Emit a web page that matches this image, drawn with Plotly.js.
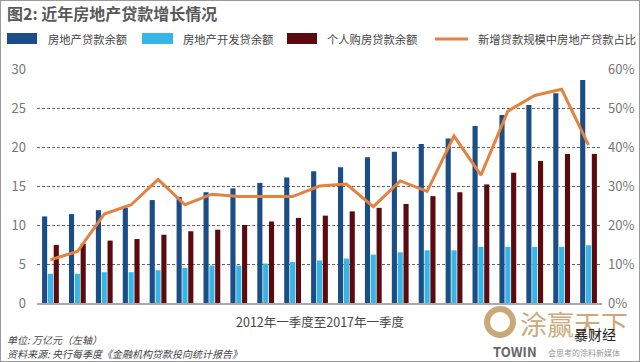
<!DOCTYPE html>
<html>
<head>
<meta charset="utf-8">
<script src="https://cdn.plot.ly/plotly-3.0.1.min.js"></script>
<style>
html,body{margin:0;padding:0;background:#fff;}
#wrap{position:relative;width:640px;height:362px;background:#fff;}
#grid{position:absolute;left:0;top:0;width:640px;height:362px;z-index:0;}
#chart{position:absolute;left:0;top:0;width:640px;height:362px;z-index:1;}
#frame{position:absolute;left:0;top:0;width:640px;height:362px;box-sizing:border-box;border:1px solid #9a9a9a;pointer-events:none;z-index:2;}
</style>
</head>
<body>
<div id="wrap"><div id="grid"></div><div id="chart"></div><div id="frame"></div></div>
<script>
// Quarters 2012Q1 .. 2017Q1
const quarters = ["2012Q1","2012Q2","2012Q3","2012Q4","2013Q1","2013Q2","2013Q3","2013Q4",
  "2014Q1","2014Q2","2014Q3","2014Q4","2015Q1","2015Q2","2015Q3","2015Q4",
  "2016Q1","2016Q2","2016Q3","2016Q4","2017Q1"];
// 房地产贷款余额 (万亿元)
const realEstateLoans = [11.1,11.4,11.9,12.2,13.2,13.6,14.2,14.7,15.4,16.1,16.9,
  17.4,18.7,19.4,20.4,21.1,22.7,24.1,25.4,26.9,28.6];
// 房地产开发贷余额 (万亿元)
const devLoans = [3.75,3.75,3.95,3.95,4.2,4.5,4.8,4.8,5.05,5.25,5.45,
  5.7,6.2,6.5,6.75,6.75,7.2,7.2,7.2,7.2,7.4];
// 个人购房贷款余额 (万亿元)
const mortgageLoans = [7.45,7.6,8.0,8.2,8.75,9.2,9.4,10.0,10.45,10.9,11.2,
  11.75,12.2,12.7,13.7,14.2,15.2,16.7,18.2,19.1,19.1];
// 新增贷款规模中房地产贷款占比
const shareNew = [0.111,0.132,0.228,0.252,0.317,0.252,0.279,0.273,0.273,0.273,0.300,
  0.305,0.247,0.313,0.286,0.428,0.328,0.492,0.532,0.548,0.405];
// left-axis tick values (万亿元)
const leftTicks = [0,5,10,15,20,25,30];

const names = ["房地产贷款余额","房地产开发贷余额","个人购房贷款余额","新增贷款规模中房地产贷款占比"];
const colors = ["#1B4E86","#35B6E6","#5B0B10","#E4823F"];
const FONT = "'Noto Sans CJK SC', 'Noto Sans', sans-serif";
const GRID = "#666666";
const TAN = "rgba(196,160,106,0.9)";

// plot area: x 37..602 px, y 69..303 px
const L=37, R=602, T=69, B=303;
const px = v => (v-L)/(R-L);
const py = v => (B-v)/(B-T);
const MARGIN = {l:L, r:640-R, t:T, b:362-B, pad:0, autoexpand:false};

// ---- background layer: dashed grid lines only (sits behind the bars) ----
Plotly.newPlot("grid", [], {
  width:640, height:362, margin:MARGIN,
  paper_bgcolor:"#fff", plot_bgcolor:"#fff", showlegend:false,
  xaxis:{visible:false, range:[-0.5,20.5], showgrid:false, zeroline:false},
  yaxis:{range:[0,30.05], tickvals:leftTicks, showticklabels:false, ticks:"", showgrid:true,
    gridcolor:GRID, griddash:"3px,2px", gridwidth:1, zeroline:false, showline:false}
}, {displayModeBar:false, staticPlot:true});

// ---- main chart ----
const traces = [
  {type:"bar", x:quarters, y:realEstateLoans, name:names[0], marker:{color:colors[0]}, showlegend:false},
  {type:"bar", x:quarters, y:devLoans, name:names[1], marker:{color:colors[1]}, showlegend:false},
  {type:"bar", x:quarters, y:mortgageLoans, name:names[2], marker:{color:colors[2]}, showlegend:false},
  {type:"scatter", mode:"lines", x:quarters, y:shareNew, name:names[3], yaxis:"y2",
   line:{color:colors[3], width:3}, showlegend:false}
];

const shapes = [
  {type:"rect", xref:"paper", yref:"paper", x0:px(7), x1:px(37), y0:py(44), y1:py(33), fillcolor:colors[0], line:{width:0}},
  {type:"rect", xref:"paper", yref:"paper", x0:px(142), x1:px(173), y0:py(44), y1:py(33), fillcolor:colors[1], line:{width:0}},
  {type:"rect", xref:"paper", yref:"paper", x0:px(287), x1:px(317), y0:py(44), y1:py(33), fillcolor:colors[2], line:{width:0}},
  {type:"line", xref:"paper", yref:"paper", x0:px(435), x1:px(468), y0:py(39), y1:py(39), line:{color:colors[3], width:3}},
  {type:"circle", xref:"paper", yref:"paper", x0:px(487), x1:px(513), y0:py(335), y1:py(309), line:{color:TAN, width:6}}
];

function ann(text, x, y, size, color, extra){
  return Object.assign({text:text, xref:"paper", yref:"paper", x:px(x), y:py(y), showarrow:false,
    xanchor:"left", yanchor:"middle", font:{family:FONT, size:size, color:color}}, extra||{});
}

const annotations = [
  ann(names[0], 46, 39, 11.3, "#444"),
  ann(names[1], 181, 39, 11.3, "#444"),
  ann(names[2], 325, 39, 11.3, "#444"),
  ann(names[3], 476, 39, 11.3, "#444"),
  ann("2012年一季度至2017年一季度", 320.5, 321, 12.5, "#444", {xanchor:"center"}),
  ann("<i>单位: 万亿元（左轴）</i>", 5, 339, 10, "#444"),
  ann("<i>资料来源: 央行每季度《金融机构贷款投向统计报告》</i>", 5, 353, 10, "#444"),
  ann("涂赢天下", 518, 323, 27, TAN),
  ann("暴财经", 572, 334, 14, "#222"),
  ann("<b>TOWIN</b>", 491, 351, 13, "#666"),
  ann("会思考的涂料新媒体", 546, 352, 8, "#999")
];

const layout = {
  width:640, height:362,
  margin:MARGIN,
  paper_bgcolor:"rgba(0,0,0,0)", plot_bgcolor:"rgba(0,0,0,0)",
  font:{family:FONT, color:"#666"},
  title:{text:"<b>图2: 近年房地产贷款增长情况</b>", x:0.011, xanchor:"left", xref:"container",
    y:1-14/362, yref:"container", yanchor:"middle", font:{family:FONT, size:16, color:"#595959"}},
  barmode:"group", bargap:0.35, bargroupgap:0.12,
  showlegend:false,
  xaxis:{type:"category", showticklabels:false, ticks:"", showgrid:false, zeroline:false,
    showline:true, linecolor:"#aaaaaa", linewidth:2, range:[-0.5,20.5]},
  yaxis:{range:[0,30], tickvals:leftTicks, showgrid:true, gridcolor:GRID, griddash:"3px,2px", gridwidth:1,
    zeroline:false, showline:false, ticks:"", ticklabelstandoff:10,
    tickfont:{family:FONT, size:13, color:"#777"}},
  yaxis2:{range:[0,0.6], dtick:0.1, tick0:0, overlaying:"y", side:"right", tickformat:".0%",
    showgrid:false, zeroline:false, showline:false, ticks:"", ticklabelstandoff:5,
    tickfont:{family:FONT, size:13, color:"#777"}},
  shapes:shapes,
  annotations:annotations
};

Plotly.newPlot("chart", traces, layout, {displayModeBar:false, staticPlot:true});
</script>
</body>
</html>
